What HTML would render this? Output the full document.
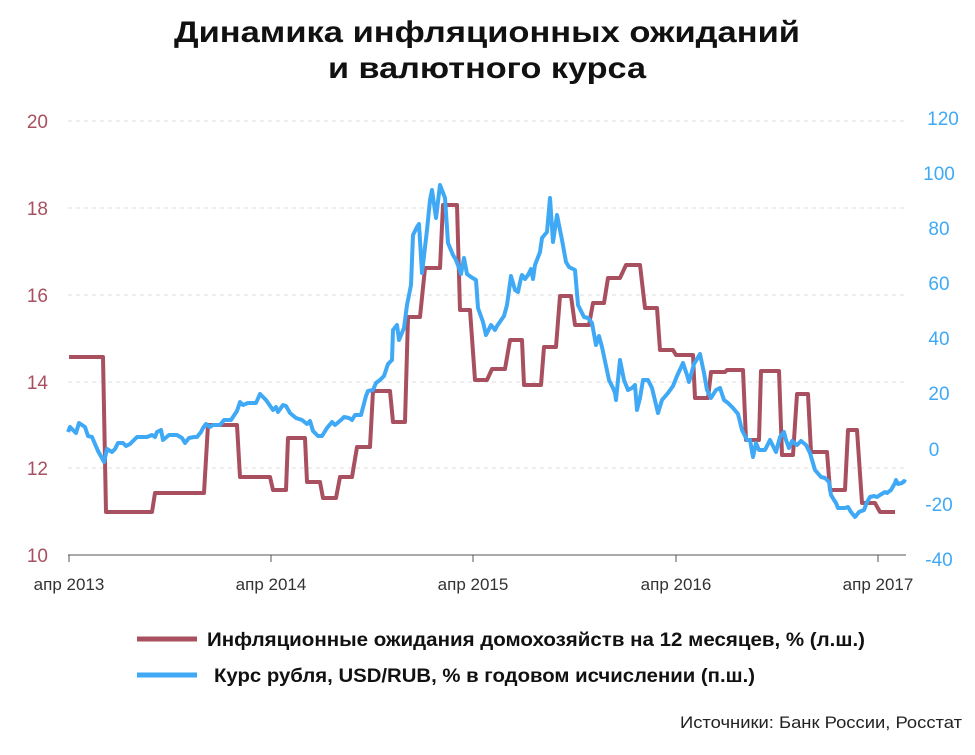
<!DOCTYPE html>
<html><head><meta charset="utf-8"><style>
body{margin:0;background:#fff;width:975px;height:750px;overflow:hidden}
svg text{font-family:"Liberation Sans",sans-serif}
</style></head><body>
<svg width="975" height="750" viewBox="0 0 975 750">
<text x="174" y="42" textLength="626" lengthAdjust="spacingAndGlyphs" font-size="30" font-weight="bold" fill="#111">Динамика инфляционных ожиданий</text>
<text x="328" y="78" textLength="318" lengthAdjust="spacingAndGlyphs" font-size="30" font-weight="bold" fill="#111">и валютного курса</text>
<g stroke="#ddd" stroke-dasharray="4,4" stroke-width="1">
<line x1="68" x2="906" y1="121" y2="121"/><line x1="68" x2="906" y1="208" y2="208"/><line x1="68" x2="906" y1="295" y2="295"/><line x1="68" x2="906" y1="382" y2="382"/><line x1="68" x2="906" y1="468" y2="468"/>
</g>
<line x1="68" x2="906" y1="555" y2="555" stroke="#555" stroke-width="1"/>
<g stroke="#555"><line x1="69" x2="69" y1="555" y2="562"/><line x1="271" x2="271" y1="555" y2="562"/><line x1="473" x2="473" y1="555" y2="562"/><line x1="676" x2="676" y1="555" y2="562"/><line x1="878" x2="878" y1="555" y2="562"/></g>
<g font-size="17" fill="#333" text-anchor="middle"><text x="69" y="590">апр 2013</text><text x="271" y="590">апр 2014</text><text x="473" y="590">апр 2015</text><text x="676" y="590">апр 2016</text><text x="878" y="590">апр 2017</text></g>
<g font-size="19" fill="#a8505f" text-anchor="end"><text x="48" y="128">20</text><text x="48" y="215">18</text><text x="48" y="302">16</text><text x="48" y="389">14</text><text x="48" y="475">12</text><text x="48" y="562">10</text></g>
<g font-size="19" fill="#3fa9f5" text-anchor="middle"><text x="943" y="125">120</text><text x="939" y="180">100</text><text x="939" y="235">80</text><text x="939" y="290">60</text><text x="939" y="345">40</text><text x="939" y="400">20</text><text x="934" y="456">0</text><text x="939" y="511">-20</text><text x="939" y="566">-40</text></g>
<polyline fill="none" stroke="#a8505f" stroke-width="4" stroke-linejoin="round" points="69,357 103,357 106,512 152,512 155,493 204,493 208,425 237,425 240,477 270,477 273,490 286,490 288,438 305,438 307,482 320,482 323,498 336,498 340,477 352,477 357,447 370,447 373,391 390,391 393,422 405,422 408,317 420,317 425,268 440,268 443,205 457,205 460,310 470,310 475,380 487,380 492,369 505,369 510,340 522,340 524,385 541,385 544,347 556,347 560,296 571,296 575,325 589,325 593,303 604,303 608,278 620,278 626,265 640,265 645,308 657,308 660,350 673,350 676,355 693,355 695,398 708,398 711,372 725,372 727,370 743,370 746,440 759,440 761,371 779,371 782,455 793,455 797,394 808,394 811,452 827,452 830,490 845,490 848,430 857,430 862,503 875,503 880,512 895,512"/>
<polyline fill="none" stroke="#3fa9f5" stroke-width="4" stroke-linejoin="round" points="68,432 70,427 76,433 79,423 85,427 88,436 92,437 98,451 103,460 104,462 107,449 112,452 115,449 118,443 123,443 126,446 130,444 137,437 147,437 152,435 155,437 157,432 161,430 163,440 169,435 177,435 182,438 185,443 189,438 194,437 197,437 201,432 203,428 206,424 210,427 213,425 220,425 224,420 231,420 237,411 240,402 243,405 248,403 256,403 260,394 266,400 273,410 276,407 278,412 283,405 286,406 290,413 296,418 302,420 307,424 310,421 313,431 318,436 322,436 327,428 332,422 335,425 341,420 344,417 349,418 352,420 355,415 361,415 366,396 368,391 373,390 376,383 380,380 384,376 388,364 391,361 392,360 393,330 397,325 399,340 404,328 407,305 411,285 413,235 417,227 419,224 422,273 427,230 430,200 432,190 436,218 440,185 445,198 448,243 453,255 456,260 459,268 461,274 464,258 467,274 471,277 476,280 478,308 483,322 486,335 491,325 495,330 497,326 504,316 507,305 511,276 515,290 518,292 521,278 522,275 525,279 528,275 531,269 533,279 535,265 540,252 542,238 547,232 550,198 553,242 557,215 562,240 566,262 569,267 575,270 578,305 584,317 588,318 592,323 596,345 599,336 602,347 609,380 613,388 615,393 616,400 620,360 624,380 628,390 632,388 635,385 637,410 640,398 643,380 648,380 652,388 658,413 662,400 668,393 673,386 677,376 683,363 687,375 689,382 694,364 700,354 704,373 707,390 711,398 716,390 720,388 724,400 728,403 733,408 738,414 742,430 747,440 750,440 753,457 756,443 759,450 765,450 770,440 776,452 780,437 784,432 786,440 789,448 792,441 797,445 801,441 806,445 810,453 815,470 821,477 825,478 829,482 831,495 834,500 836,503 838,508 845,508 848,507 851,512 855,517 859,512 864,510 867,502 870,497 874,496 877,497 880,495 885,492 887,493 891,490 895,483 896,480 898,484 902,483 904,481 906,482"/>
<line x1="137" x2="197" y1="639" y2="639" stroke="#a8505f" stroke-width="5"/>
<text x="207" y="646" textLength="658" lengthAdjust="spacingAndGlyphs" font-size="19" font-weight="bold" fill="#111">Инфляционные ожидания домохозяйств на 12 месяцев, % (л.ш.)</text>
<line x1="137" x2="197" y1="675" y2="675" stroke="#3fa9f5" stroke-width="5"/>
<text x="214" y="682" textLength="541" lengthAdjust="spacingAndGlyphs" font-size="19" font-weight="bold" fill="#111">Курс рубля, USD/RUB, % в годовом исчислении (п.ш.)</text>
<text x="962" y="728" text-anchor="end" textLength="282" lengthAdjust="spacingAndGlyphs" font-size="17" fill="#222">Источники: Банк России, Росстат</text>
</svg>
</body></html>
